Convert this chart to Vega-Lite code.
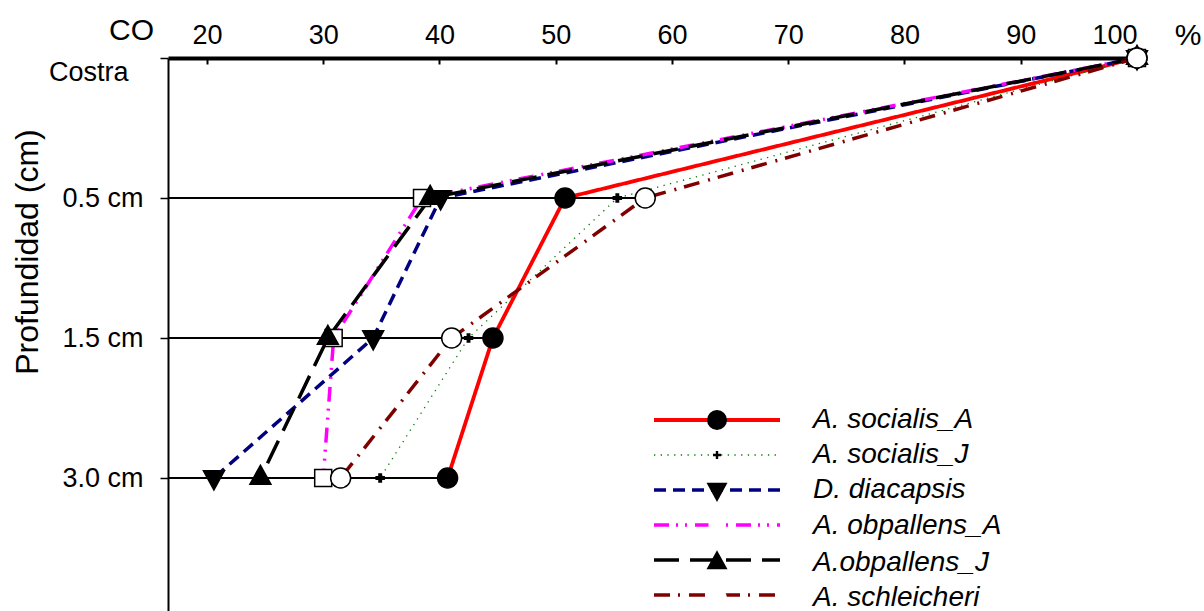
{
  "$schema": "https://vega.github.io/schema/vega-lite/v6.json",
  "width": 969,
  "height": 553,
  "autosize": {"type": "none"},
  "padding": {"left": 168, "top": 58, "right": 67, "bottom": 0},
  "title": {"text": "%", "anchor": "end", "frame": "group", "align": "center", "dx": 51, "dy": 64, "fontSize": 30, "font": "Liberation Sans", "fontWeight": "normal", "color": "black", "baseline": "alphabetic"},
  "config": {
    "view": {"stroke": null},
    "font": "Liberation Sans",
    "axis": {"grid": false, "labelColor": "black", "titleColor": "black", "domainColor": "black", "tickColor": "black", "labelFont": "Liberation Sans", "titleFont": "Liberation Sans"}
  },
  "data": {
    "values": [
      {"series": "A. socialis_A", "level": 0, "depth": "Costra", "value": 100},
      {"series": "A. socialis_A", "level": 1, "depth": "0.5 cm", "value": 50.8},
      {"series": "A. socialis_A", "level": 2, "depth": "1.5 cm", "value": 44.6},
      {"series": "A. socialis_A", "level": 3, "depth": "3.0 cm", "value": 40.7},
      {"series": "A. socialis_J", "level": 0, "depth": "Costra", "value": 100},
      {"series": "A. socialis_J", "level": 1, "depth": "0.5 cm", "value": 55.3},
      {"series": "A. socialis_J", "level": 2, "depth": "1.5 cm", "value": 42.5},
      {"series": "A. socialis_J", "level": 3, "depth": "3.0 cm", "value": 34.9},
      {"series": "D. diacapsis", "level": 0, "depth": "Costra", "value": 100},
      {"series": "D. diacapsis", "level": 1, "depth": "0.5 cm", "value": 40.1},
      {"series": "D. diacapsis", "level": 2, "depth": "1.5 cm", "value": 34.3},
      {"series": "D. diacapsis", "level": 3, "depth": "3.0 cm", "value": 20.6},
      {"series": "A. obpallens_A", "level": 0, "depth": "Costra", "value": 100},
      {"series": "A. obpallens_A", "level": 1, "depth": "0.5 cm", "value": 38.5},
      {"series": "A. obpallens_A", "level": 2, "depth": "1.5 cm", "value": 30.9},
      {"series": "A. obpallens_A", "level": 3, "depth": "3.0 cm", "value": 30.0},
      {"series": "A.obpallens_J", "level": 0, "depth": "Costra", "value": 100},
      {"series": "A.obpallens_J", "level": 1, "depth": "0.5 cm", "value": 39.2},
      {"series": "A.obpallens_J", "level": 2, "depth": "1.5 cm", "value": 30.4},
      {"series": "A.obpallens_J", "level": 3, "depth": "3.0 cm", "value": 24.6},
      {"series": "A. schleicheri", "level": 0, "depth": "Costra", "value": 100},
      {"series": "A. schleicheri", "level": 1, "depth": "0.5 cm", "value": 57.7},
      {"series": "A. schleicheri", "level": 2, "depth": "1.5 cm", "value": 41.05},
      {"series": "A. schleicheri", "level": 3, "depth": "3.0 cm", "value": 31.5}
    ]
  },
  "resolve": {"legend": {"stroke": "independent", "strokeDash": "independent", "fill": "independent", "shape": "independent"}},
  "layer": [
    {
      "transform": [
        {"filter": "datum.level > 0"},
        {"aggregate": [{"op": "max", "field": "value", "as": "xmax"}], "groupby": ["level"]}
      ],
      "mark": {"type": "rule", "color": "black", "strokeWidth": 2},
      "encoding": {
        "x": {"field": "xmax", "type": "quantitative",
          "scale": {"domain": [16.65, 100], "nice": false, "zero": false},
          "axis": {"orient": "top", "values": [20, 30, 40, 50, 60, 70, 80, 90, 100], "domainWidth": 4, "tickSize": -6, "tickWidth": 2, "labelFontSize": 27, "labelBaseline": "alphabetic", "labelPadding": 21, "title": "CO", "titleX": -37, "titleY": -19, "titleBaseline": "alphabetic", "titleAlign": "center", "titleAngle": 0, "titleFontSize": 30, "titleFontWeight": "normal"}},
        "x2": {"datum": 16.65},
        "y": {"field": "level", "type": "quantitative",
          "scale": {"domain": [0, 3.95], "reverse": true, "nice": false, "zero": false},
          "axis": {"orient": "left", "values": [0, 1, 2, 3],
            "labelExpr": "datum.value == 0 ? 'Costra' : datum.value == 1 ? '0.5 cm' : datum.value == 2 ? '1.5 cm' : '3.0 cm'",
            "domainWidth": 2, "tickSize": 8, "tickWidth": 1.5, "labelFontSize": 27,
            "labelPadding": {"condition": {"test": "datum.value == 0", "value": 32}, "value": 17},
            "labelOffset": {"condition": {"test": "datum.value == 0", "value": 14}, "value": 0},
            "title": "Profundidad (cm)", "titleFontSize": 32, "titleFontWeight": "normal", "titleAngle": -90, "titleX": -131, "titleY": 193.5, "titleBaseline": "alphabetic", "titleAlign": "center"}}
      }
    },
    {
      "mark": {"type": "line", "strokeCap": "butt"},
      "encoding": {
        "x": {"field": "value", "type": "quantitative"},
        "y": {"field": "level", "type": "quantitative"},
        "order": {"field": "level", "type": "quantitative"},
        "stroke": {"field": "series", "type": "nominal",
          "scale": {"domain": ["A. socialis_A", "A. socialis_J", "D. diacapsis", "A. obpallens_A", "A.obpallens_J", "A. schleicheri"], "range": ["#FF0000", "#008000", "#000080", "#FF00FF", "#000000", "#800000"]},
          "legend": {"orient": "none", "legendX": 535, "legendY": 348, "title": null, "symbolType": "M-6.3,0H6.3", "symbolSize": 400, "symbolStrokeWidth": 3.5, "labelExpr": "''", "labelFontSize": 28, "labelOffset": 82, "rowPadding": 7, "padding": 0,
            "encode": {"symbols": {"update": {"fill": {"value": "transparent"}, "strokeWidth": {"signal": "datum.value === 'A. socialis_J' ? 1.3 : datum.value === 'A. socialis_A' ? 4 : 3.5"}}}}}},
        "strokeDash": {"field": "series", "type": "nominal",
          "scale": {"domain": ["A. socialis_A", "A. socialis_J", "D. diacapsis", "A. obpallens_A", "A.obpallens_J", "A. schleicheri"], "range": [[1, 0], [1.3, 5.4], [12, 7], [15, 7, 2, 7, 2, 8], [25, 11], [16, 8, 2, 9]]},
          "legend": {"orient": "none", "legendX": 535, "legendY": 348, "title": null, "symbolType": "M-6.3,0H6.3", "symbolSize": 400, "symbolStrokeWidth": 3.5, "labelExpr": "''", "labelFontSize": 28, "labelOffset": 82, "rowPadding": 7, "padding": 0,
            "encode": {"symbols": {"update": {"fill": {"value": "transparent"}, "strokeWidth": {"signal": "datum.value === 'A. socialis_J' ? 1.3 : datum.value === 'A. socialis_A' ? 4 : 3.5"}}}}}},
        "strokeWidth": {"condition": [{"test": "datum.series === 'A. socialis_J'", "value": 1.3}, {"test": "datum.series === 'A. socialis_A'", "value": 3.8}], "value": 3.5}
      }
    },
    {
      "mark": {"type": "point", "filled": true, "opacity": 1, "stroke": "black", "strokeWidth": 1.5, "size": 400},
      "encoding": {
        "x": {"field": "value", "type": "quantitative"},
        "y": {"field": "level", "type": "quantitative"},
        "fill": {"field": "series", "type": "nominal",
          "scale": {"domain": ["A. socialis_A", "A. socialis_J", "D. diacapsis", "A. obpallens_A", "A.obpallens_J", "A. schleicheri"], "range": ["#000000", "#000000", "#000000", "#FFFFFF", "#000000", "#FFFFFF"]},
          "legend": {"orient": "none", "legendX": 535, "legendY": 348, "title": null, "symbolSize": 400, "symbolStrokeWidth": 1.5, "symbolStrokeColor": "black", "symbolOpacity": 1, "labelFontSize": 28, "labelFont": "Liberation Sans", "labelFontStyle": "italic", "labelColor": "black", "labelLimit": 0, "labelOffset": 82, "rowPadding": 7, "padding": 0}},
        "shape": {"field": "series", "type": "nominal",
          "scale": {"domain": ["A. socialis_A", "A. socialis_J", "D. diacapsis", "A. obpallens_A", "A.obpallens_J", "A. schleicheri"], "range": ["circle", "M-0.4,-0.12H-0.12V-0.4H0.12V-0.12H0.4V0.12H0.12V0.4H-0.12V0.12H-0.4Z", "M-1.05,-0.72H1.05L0,1.2Z", "M-0.85,-0.85H0.85V0.85H-0.85Z", "M-1.05,0.62H1.05L0,-1.28Z", "circle"]},
          "legend": {"orient": "none", "legendX": 535, "legendY": 348, "title": null, "symbolSize": 400, "symbolStrokeWidth": 1.5, "symbolStrokeColor": "black", "symbolOpacity": 1, "labelFontSize": 28, "labelFont": "Liberation Sans", "labelFontStyle": "italic", "labelColor": "black", "labelLimit": 0, "labelOffset": 82, "rowPadding": 7, "padding": 0}}
      }
    }
  ]
}
